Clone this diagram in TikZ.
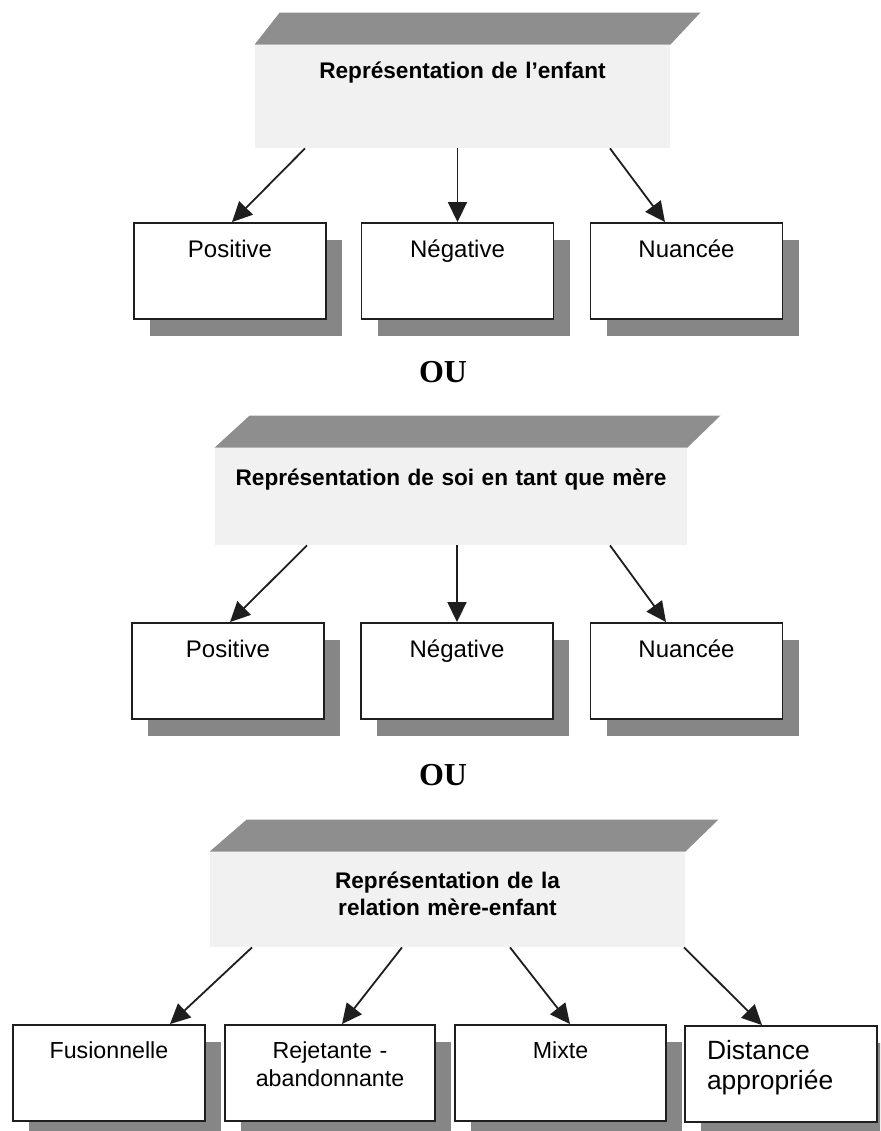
\documentclass[tikz,border=0pt]{standalone}
\usepackage{fontspec}
\setmainfont{Liberation Sans}
\newfontfamily\oufont{Liberation Serif}
\usetikzlibrary{arrows.meta, shadows, calc}
\definecolor{bandgray}{HTML}{8E8E8E}
\definecolor{headgray}{HTML}{F1F1F1}
\definecolor{shadegray}{HTML}{868686}
\definecolor{inkgray}{HTML}{1E1E1E}
\newcommand{\band}[3]{\fill[bandgray] (#1.north west) -- ($(#1.north west)+(#2,-32)$) -- ($(#1.north east)+(#3,-32)$) -- (#1.north east) -- cycle;}

\begin{document}
\begin{tikzpicture}[x=0.5pt, y=-0.5pt, >={Triangle[length=10pt, width=9.5pt]},
  head/.style={fill=headgray, text width=#1, align=center, inner xsep=2pt, inner ysep=0pt, font=\fontsize{11.3}{13.5}\selectfont\bfseries},
  kid/.style={draw=inkgray, line width=0.95pt, fill=white, text width=#1, align=center, inner xsep=2pt, inner ysep=0pt,
    text height=17pt, text depth=31pt, font=\fontsize{12}{14.4}\selectfont,
    drop shadow={shadow xshift=8pt, shadow yshift=-8.5pt, fill=shadegray, opacity=1}},
  kid/.default=92pt,
  low/.style={kid=#1, text height=16.5pt, text depth=31.5pt, font=\fontsize{11.6}{14.2}\selectfont},
  low/.default=92pt,
  arr/.style={->, draw=inkgray, line width=0.9pt},
  ou/.style={font=\oufont\fontsize{16}{19}\selectfont\bfseries}]
  \clip (0,0) rectangle (880,1131);

  \node[head=203.5pt, text height=16.5pt, text depth=35pt] (head1) at (462.5,96.5) {Représentation de l'enfant};
  \band{head1}{25}{30}
  \node[kid] (pos1) at (230,271) {Positive};
  \node[kid] (neg1) at (457.5,271) {Négative};
  \node[kid] (nua1) at (686.5,271) {Nuancée};
  \draw[arr] ($(head1.south)+(-157.5,0)$) -- ($(pos1.north)+(2,0)$);
  \draw[arr] (neg1.north |- head1.south) -- (neg1.north);
  \draw[arr] ($(head1.south)+(147.5,0)$) -- ($(nua1.north)+(-21.5,0)$);

  \node[ou] (ou1) at (443,372) {OU};

  \node[head=232pt, text height=18.5pt, text depth=30pt] (head2) at (451,496.5) {Représentation de soi en tant que mère};
  \band{head2}{35}{33}
  \node[kid] (pos2) at (228,671) {Positive};
  \node[kid] (neg2) at (457,671) {Négative};
  \node[kid] (nua2) at (686.5,671) {Nuancée};
  \draw[arr] ($(head2.south)+(-144,0)$) -- ($(pos2.north)+(2,0)$);
  \draw[arr] (neg2.north |- head2.south) -- (neg2.north);
  \draw[arr] ($(head2.south)+(159,0)$) -- ($(nua2.north)+(-20.5,0)$);

  \node[ou] (ou2) at (443,775) {OU};

  \node[head=233.5pt, text height=18pt, text depth=29.5pt] (head3) at (447.5,899.5) {Représentation de la\\relation mère-enfant};
  \band{head3}{37}{33}
  \node[low] (fus) at (109,1073) {Fusionnelle};
  \node[low=101pt] (rej) at (330,1073) {Rejetante -\\abandonnante};
  \node[low=101.5pt] (mix) at (560.5,1073) {Mixte};
  \node[low=74pt, inner xsep=11pt, align=left, font=\fontsize{13.2}{15.4}\selectfont] (dist) at (781,1074) {Distance\\appropriée};
  \draw[arr] ($(head3.south)+(-195.5,0)$) -- ($(fus.north)+(61,0)$);
  \draw[arr] ($(head3.south)+(-45.5,0)$) -- ($(rej.north)+(12,0)$);
  \draw[arr] ($(head3.south)+(62.5,0)$) -- ($(mix.north)+(9.5,0)$);
  \draw[arr] ($(head3.south)+(236.5,0)$) -- ($(dist.north)+(-19,0)$);
\end{tikzpicture}
\end{document}
